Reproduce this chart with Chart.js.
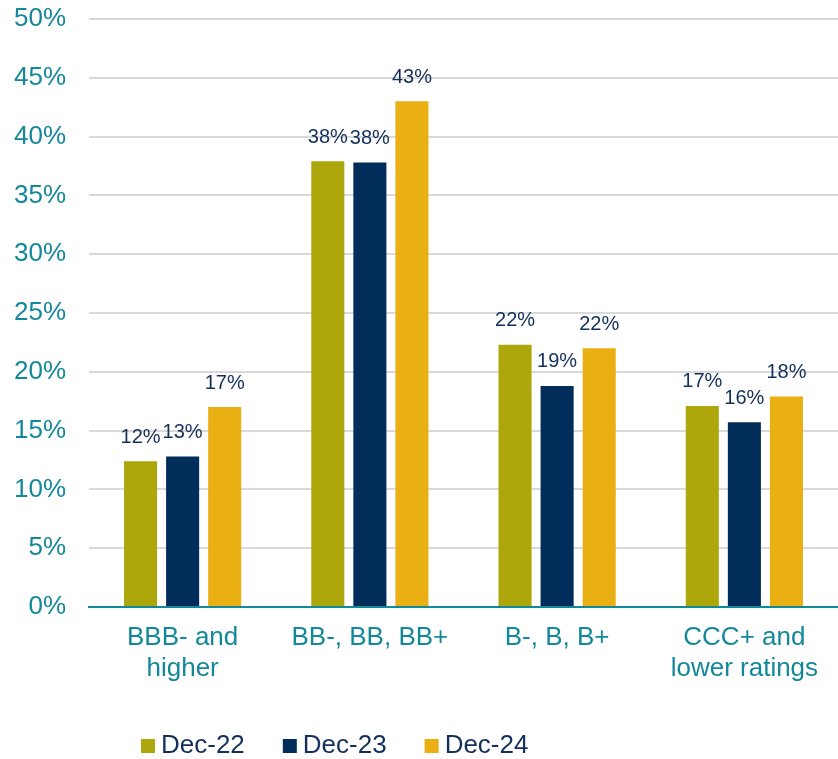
<!DOCTYPE html>
<html>
<head>
<meta charset="utf-8">
<script src="https://cdn.jsdelivr.net/npm/chart.js@4.4.1/dist/chart.umd.min.js"></script>
<style>
    html, body { margin: 0; padding: 0; background: #fff; }
    .wrap { width: 838px; height: 759px; position: relative; }
</style>
</head>
<body>
<div class="wrap"><canvas id="ratings"></canvas></div>
<script>
const categories = [["BBB- and", "higher"], "BB-, BB, BB+", "B-, B, B+", ["CCC+ and", "lower ratings"]];
const seriesNames = ["Dec-22", "Dec-23", "Dec-24"];
const dec22 = [12.4, 37.9, 22.3, 17.1];
const dec23 = [12.8, 37.8, 18.8, 15.7];
const dec24 = [17.0, 43.0, 22.0, 17.9];
const yTicks = [0, 5, 10, 15, 20, 25, 30, 35, 40, 45, 50];

const colors = ["#ADA70C", "#002D59", "#EAAF12"];
const teal = "#13889B";
const navy = "#142F5A";
const font = "'Liberation Sans', Arial, sans-serif";

// value labels above each bar
const barLabels = {
    id: "barLabels",
    afterDatasetsDraw(chart) {
        const ctx = chart.ctx;
        ctx.save();
        ctx.font = "20px " + font;
        ctx.fillStyle = navy;
        ctx.textAlign = "center";
        ctx.textBaseline = "middle";
        chart.data.datasets.forEach(function (ds, i) {
            chart.getDatasetMeta(i).data.forEach(function (bar, j) {
                ctx.fillText(Math.round(ds.data[j]) + "%", bar.x, bar.y - 24);
            });
        });
        ctx.restore();
    },
};

// legend row under the category labels
const bottomLegend = {
    id: "bottomLegend",
    afterDraw(chart) {
        const ctx = chart.ctx;
        ctx.save();
        ctx.font = "26px " + font;
        ctx.textBaseline = "middle";
        let x = 141;
        const y = 746;
        chart.data.datasets.forEach(function (ds) {
            ctx.fillStyle = ds.backgroundColor;
            ctx.fillRect(x, y - 7, 14, 14);
            ctx.fillStyle = navy;
            ctx.fillText(ds.label, x + 20, y);
            x += 20 + ctx.measureText(ds.label).width + 38;
        });
        ctx.restore();
    },
};

const ctx = document.getElementById("ratings").getContext("2d");
const myChart = new Chart(ctx, {
    type: "bar",
    data: {
        labels: categories,
        datasets: [dec22, dec23, dec24].map(function (values, i) {
            return {
                label: seriesNames[i],
                data: values,
                backgroundColor: colors[i],
                categoryPercentage: 0.674,
                barPercentage: 0.786,
            };
        }),
    },
    options: {
        responsive: true,
        maintainAspectRatio: false,
        animation: false,
        layout: { padding: { top: 19, right: 0, bottom: 52, left: 0 } },
        plugins: {
            legend: { display: false },
            tooltip: { enabled: false },
        },
        scales: {
            x: {
                grid: { display: false, drawTicks: false },
                border: { display: true, color: teal, width: 2 },
                ticks: {
                    color: teal,
                    font: { family: font, size: 26, lineHeight: 1.17 },
                    padding: 16,
                    maxRotation: 0,
                    autoSkip: false,
                },
                afterFit: function (scale) { scale.height = 100; },
            },
            y: {
                min: 0,
                max: 50,
                afterBuildTicks: function (scale) {
                    scale.ticks = yTicks.map(function (v) { return { value: v }; });
                },
                grid: { color: "#D9D9D9", lineWidth: 2, drawTicks: false },
                border: { display: false },
                ticks: {
                    color: teal,
                    font: { family: font, size: 26 },
                    padding: 23,
                    callback: function (v) { return v + "%"; },
                },
                afterFit: function (scale) {
                    scale.width = 89;
                    // the tick padding should only push labels sideways, not shrink the plot
                    scale.paddingTop = 0;
                    scale.paddingBottom = 0;
                },
            },
        },
    },
    plugins: [barLabels, bottomLegend],
});
</script>
</body>
</html>
